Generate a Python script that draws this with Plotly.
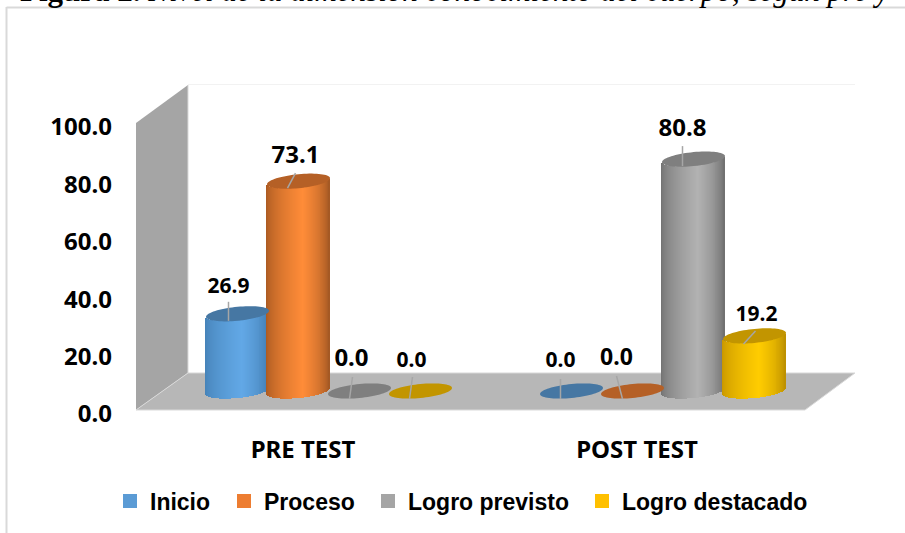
import math
import plotly.graph_objects as go

# ---- data ----
categories = ["PRE TEST", "POST TEST"]
series_names = ["Inicio", "Proceso", "Logro previsto", "Logro destacado"]
inicio = [26.9, 0.0]
proceso = [73.1, 0.0]
logro_previsto = [0.0, 80.8]
logro_destacado = [0.0, 19.2]
y_ticks = [0, 20, 40, 60, 80, 100]
title_bold = "Figura 2."
title_italic = " Nivel de la dimensión conocimiento del cuerpo, según pre y"
series_values = [inicio, proceso, logro_previsto, logro_destacado]

# ---- geometry of the picture (pixels) ----
W, H = 905, 533
PX_PER_CAT = 334.0
PX_PER_UNIT = 2.87
BAR_X0, BAR_Y0 = 329.0, 391.0      # bar scale origin (set back on the floor)
AX_X0, AX_Y0 = 303.0, 414.0        # front axis origin
STEP_PX, RAD_PX = 61.0, 31.5
ELL_B, ELL_K = 7.0, 3.0            # ellipse half height and tilt
STRIPS = 64

def ux(px):
    return px / PX_PER_CAT

def uy(px):
    return px / PX_PER_UNIT

def paper(pts):
    return "M" + "L".join(f"{x/W:.5f},{1-y/H:.5f}" for x, y in pts) + "Z"

# ---- style ----
legend_col = ["#5B9BD5", "#ED7D31", "#A5A5A5", "#FFC000"]
top_col = ["#4677A3", "#B56026", "#7F7F7F", "#C29500"]
grad = [
    ("#4480B5", "#62A8E6", "#3F79AD"),
    ("#A65720", "#FF8C38", "#9C5422"),
    ("#6F6F6F", "#B2B2B2", "#6B6B6B"),
    ("#C59400", "#FFCC00", "#B78B00"),
]
legend_widths = [69, 99, 169, 200]
# (label dx, label dy above top, font size, leader x0,y0, x1,y1 relative to the cylinder's top centre)
label_style = {
    (0, 0): (-9, 26, 21, -9, 12, -9, -7),
    (1, 0): (-3, 24, 24, -3, 8, -11, -7),
    (2, 0): (-8, 31, 24, -7, 14, -10, -8),
    (3, 0): (-9, 29, 21, -8, 14, -11, -8),
    (0, 1): (-11, 29, 21, -11, 12, -11, -8),
    (1, 1): (-16, 32, 23, -16, 15, -10, -8),
    (2, 1): (-11, 29, 24, -11, 13, -11, -7),
    (3, 1): (2, 20, 21, 1, 5, -11, -8),
}

def hex2rgb(c):
    return tuple(int(c[i:i + 2], 16) for i in (1, 3, 5))

def mix(a, b, t):
    ra, rb = hex2rgb(a), hex2rgb(b)
    return "rgb(" + ",".join(str(round(p + (q - p) * t)) for p, q in zip(ra, rb)) + ")"

def side_colour(s, t):
    # t runs -1..1 across the cylinder
    left, mid, right = grad[s]
    peak = 0.15
    if t < peak:
        return mix(left, mid, ((t + 1) / (1 + peak)) ** 0.6)
    return mix(right, mid, ((1 - t) / (1 - peak)) ** 0.6)

fig = go.Figure()
shapes = []

# walls and floor
shapes += [
    dict(type="path", xref="paper", yref="paper", layer="below", path=paper([(136, 123), (188, 85), (188, 373), (136, 410)]),
         fillcolor="#A5A5A5", line=dict(width=0)),
    dict(type="path", xref="paper", yref="paper", layer="below", path=paper([(136, 410), (188, 373), (855, 373), (805, 410)]),
         fillcolor="#B7B7B7", line=dict(width=1, color="#D9D9D9")),
    dict(type="line", xref="paper", yref="paper", layer="below", x0=188 / W, x1=855 / W, y0=1 - 84.5 / H, y1=1 - 84.5 / H,
         line=dict(width=1, color="#F2F2F2")),
    dict(type="line", xref="paper", yref="paper", layer="below", x0=188 / W, x1=188 / W, y0=1 - 85 / H, y1=1 - 373 / H,
         line=dict(width=1, color="#D9D9D9")),
    dict(type="line", xref="paper", yref="paper", x0=6.5 / W, x1=1, y0=1 - 7.5 / H, y1=1 - 7.5 / H,
         line=dict(width=2, color="#D9D9D9")),
    dict(type="line", xref="paper", yref="paper", x0=6.5 / W, x1=6.5 / W, y0=1 - 7 / H, y1=0,
         line=dict(width=2, color="#D9D9D9")),
]

text_x, text_y, text_s, text_f = [], [], [], []
leaders = []

for s, name in enumerate(series_names):
    values = series_values[s]
    xs = [c + ux((s - 1.5) * STEP_PX) for c in range(len(categories))]
    # the real bar, narrower than the cylinder that dresses it
    fig.add_trace(go.Bar(
        x=xs, y=values, name=name, width=ux(2 * RAD_PX * 0.8),
        marker=dict(color=legend_col[s], line=dict(color=legend_col[s], width=2)),
        legendwidth=legend_widths[s],
        hoverinfo="x+y",
    ))
    # gradient skin: one thin bar per pixel column
    sx, sbase, sy, scol = [], [], [], []
    for c, v in enumerate(values):
        if v <= 0:
            continue
        for i in range(STRIPS):
            t = -1 + 2 * (i + 0.5) / STRIPS
            root = math.sqrt(max(0, 1 - t * t))
            low = uy(-ELL_B * root + ELL_K * t)
            high = v + uy(ELL_K * t - ELL_B * root)
            sx.append(xs[c] + ux(t * RAD_PX))
            sbase.append(low)
            sy.append(high - low)
            scol.append(side_colour(s, t))
    if sx:
        fig.add_trace(go.Bar(
            x=sx, y=sy, base=sbase, width=ux(2 * RAD_PX / STRIPS * 1.3),
            marker=dict(color=scol, line=dict(width=0)),
            showlegend=False, hoverinfo="skip",
        ))
    # top ellipses, labels and leader lines
    for c, v in enumerate(values):
        pts = []
        for k in range(72):
            a = 2 * math.pi * k / 72
            pts.append((xs[c] + ux(RAD_PX * math.cos(a)),
                        v + uy(ELL_B * math.sin(a) + ELL_K * math.cos(a))))
        shapes.append(dict(type="path", xref="x", yref="y",
                           path="M" + "L".join(f"{px:.5f},{py:.4f}" for px, py in pts) + "Z",
                           fillcolor=top_col[s], line=dict(width=0)))
        dx, dy, fs, x0, y0, x1, y1 = label_style[(s, c)]
        text_x.append(xs[c] + ux(dx))
        text_y.append(v + uy(dy))
        text_s.append(f"{v:.1f}")
        text_f.append(fs)
        leaders.append(dict(type="line", xref="x", yref="y",
                            x0=xs[c] + ux(x0), y0=v + uy(y0), x1=xs[c] + ux(x1), y1=v + uy(y1),
                            line=dict(color="#A6A6A6", width=1.5)))

fig.add_trace(go.Scatter(
    x=text_x, y=text_y, text=text_s, mode="text", showlegend=False, hoverinfo="skip",
    textfont=dict(family="Noto Sans", size=text_f, color="#000000", weight=700),
    textposition="middle center", cliponaxis=False,
))
# carries the front tick axes
fig.add_trace(go.Scatter(
    x=[0, 1], y=[y_ticks[0], y_ticks[-1]], xaxis="x2", yaxis="y2", mode="markers",
    marker=dict(opacity=0), showlegend=False, hoverinfo="skip",
))

tick_font = dict(family="Noto Sans", size=24, color="#000000", weight=700)
fig.update_layout(
    width=W, height=H, autosize=False,
    margin=dict(l=0, r=0, t=0, b=0, autoexpand=False),
    paper_bgcolor="#FFFFFF", plot_bgcolor="rgba(0,0,0,0)",
    barmode="overlay", bargap=0,
    shapes=shapes + leaders,
    xaxis=dict(domain=[0, 1], range=[-BAR_X0 / PX_PER_CAT, (W - BAR_X0) / PX_PER_CAT],
               visible=False, fixedrange=True),
    yaxis=dict(domain=[0, 1], range=[(BAR_Y0 - H) / PX_PER_UNIT, BAR_Y0 / PX_PER_UNIT],
               visible=False, fixedrange=True),
    xaxis2=dict(overlaying="x", anchor="free", position=1 - 433 / H,
                range=[-AX_X0 / PX_PER_CAT, (W - AX_X0) / PX_PER_CAT],
                tickmode="array", tickvals=[0, 1], ticktext=categories, ticks="",
                showgrid=False, zeroline=False, showline=False,
                tickfont=dict(family="Noto Sans", size=24, color="#000000", weight=700)),
    yaxis2=dict(overlaying="y", anchor="free", position=112 / W, side="left",
                range=[(AX_Y0 - H) / PX_PER_UNIT, AX_Y0 / PX_PER_UNIT],
                tickmode="array", tickvals=y_ticks, ticktext=[f"{v:.1f}" for v in y_ticks], ticks="",
                showgrid=False, zeroline=False, showline=False, tickfont=tick_font),
    legend=dict(orientation="h", x=110 / W, xanchor="left", y=1 - 501 / H, yanchor="middle",
                font=dict(family="Liberation Sans", size=23, color="#000000", weight=700),
                itemclick=False, itemdoubleclick=False, bgcolor="rgba(0,0,0,0)"),
    annotations=[dict(
        xref="paper", yref="paper", x=18 / W, y=1 - 10 / H, xanchor="left", yanchor="bottom",
        text=f"<b>{title_bold}</b><i>{title_italic}</i>", showarrow=False, align="left",
        font=dict(family="Liberation Serif", size=31, color="#000000"),
    )],
)

fig.write_html("out.html", config=dict(displayModeBar=False),
               post_script="document.body.style.margin='0';document.body.style.overflow='hidden';")
